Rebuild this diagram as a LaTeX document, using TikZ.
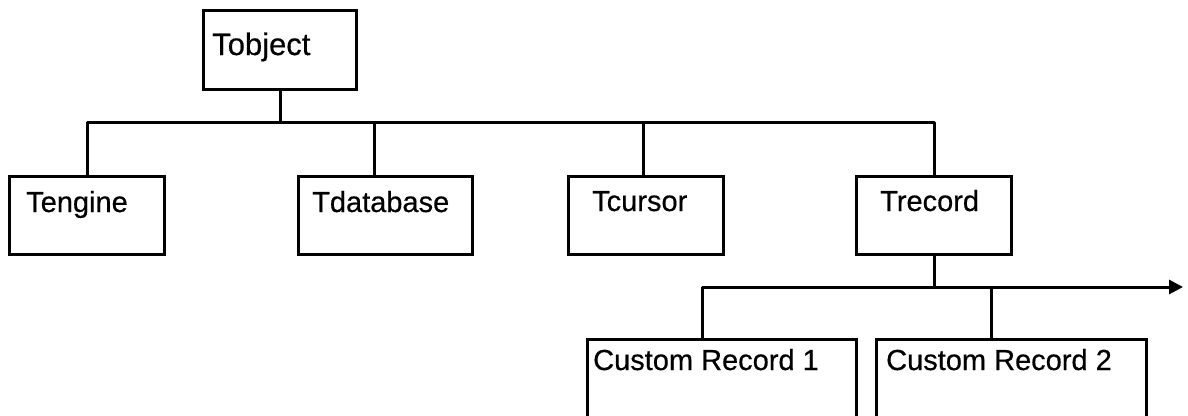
\documentclass[tikz,border=0pt]{standalone}
\usepackage{fontspec}
\setmainfont{Liberation Sans}
\newfontfamily\lbfont[FakeBold=0.5]{Liberation Sans}
\usetikzlibrary{arrows.meta,calc}
\begin{document}
\begin{tikzpicture}[x=1pt,y=-1pt,
  box/.style={draw, line width=3pt, anchor=north west, inner sep=0pt, minimum height=78pt},
  lbl/.style={anchor=base west, inner sep=0pt, font=\lbfont\fontsize{29}{31}\selectfont},
  conn/.style={line width=3pt, line join=round}]
\useasboundingbox[fill=white] (0,0) rectangle (1188,415);
% boxes
\node[box, minimum width=153pt, minimum height=79pt] (tobj) at (202,9) {};
\node[box, minimum width=155pt] (teng) at (8,175) {};
\node[box, minimum width=174pt] (tdb) at (297,175) {};
\node[box, minimum width=155pt] (tcur) at (567,175) {};
\node[box, minimum width=155pt] (trec) at (855,175) {};
\node[box, minimum width=269pt] (cr1) at (586,338) {};
\node[box, minimum width=270pt] (cr2) at (875,338) {};
% texts
\node[lbl, font=\lbfont\fontsize{31}{33}\selectfont] (tobjt) at (212,55) {Tobject};
\node[lbl] (tengt) at (26,212) {Tengine};
\node[lbl] (tdbt) at (312,212) {Tdatabase};
\node[lbl] (tcurt) at (592,211) {Tcursor};
\node[lbl] (trect) at (880,211) {Trecord};
\node[lbl] (cr1t) at (593,370) {Custom Record 1};
\node[lbl] (cr2t) at (886,370) {Custom Record 2};
% connectors, first level
\coordinate (bus1) at (278,122);
\coordinate (tdbc) at ($(tdb.north west)+(77,0)$);
\coordinate (tcurc) at ($(tcur.north west)+(76,0)$);
\draw[conn] (tobj.south) -- (tobj.south |- bus1);
\draw[conn] (teng.north) |- (trec.north |- bus1) -- (trec.north);
\draw[conn] (tdbc |- bus1) -- (tdbc);
\draw[conn] (tcurc |- bus1) -- (tcurc);
% connectors, second level
\coordinate (bus2) at (932,287);
\coordinate (arrowend) at (1183,287);
\coordinate (cr1c) at ($(cr1.north west)+(116,0)$);
\coordinate (cr2c) at ($(cr2.north west)+(116,0)$);
\draw[conn] (trec.south) -- (trec.south |- bus2);
\draw[conn, -{Triangle[length=14pt,width=14pt]}] (cr1c) |- (arrowend);
\draw[conn] (cr2c) -- (cr2c |- bus2);
\end{tikzpicture}
\end{document}
